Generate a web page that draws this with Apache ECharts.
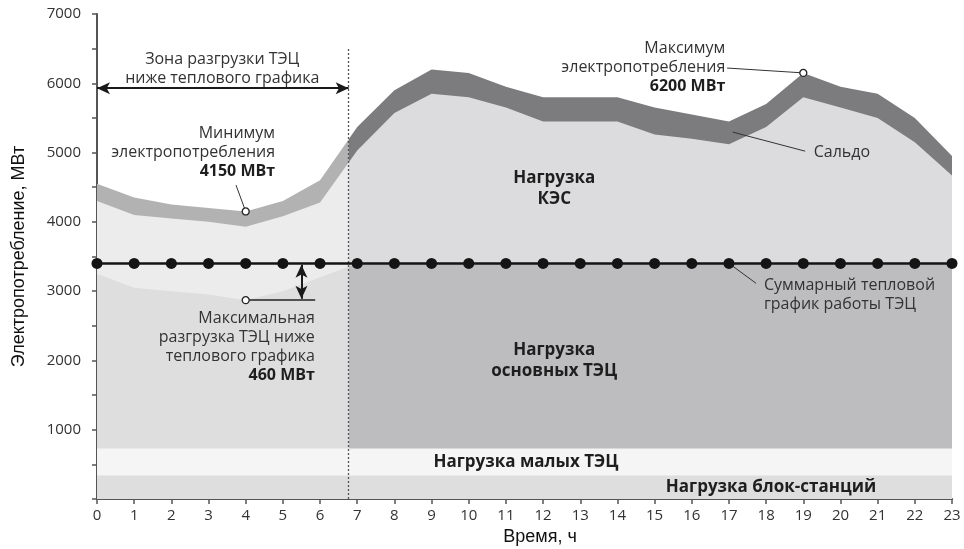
<!DOCTYPE html>
<html><head><meta charset="utf-8">
<script src="https://cdn.jsdelivr.net/npm/echarts@6/dist/echarts.min.js"></script>
<style>html,body{margin:0;padding:0;background:#fff}#c{width:964px;height:549px}</style>
</head><body><div id="c"></div>
<script>
// ---- data (MW by hour) ----
const hours = [0,1,2,3,4,5,6,7,8,9,10,11,12,13,14,15,16,17,18,19,20,21,22,23];
const totalLoad = [4550,4350,4250,4200,4150,4300,4600,5370,5900,6200,6150,5950,5800,5800,5800,5650,5550,5450,5700,6150,5950,5850,5500,4950];
const kesTop = [4300,4100,4050,4000,3930,4080,4280,5030,5570,5850,5800,5650,5450,5450,5450,5260,5200,5120,5370,5800,5650,5500,5150,4670];
const tecLoad = [3250,3050,3000,2950,2870,3000,3200,3400,3400,3400,3400,3400,3400,3400,3400,3400,3400,3400,3400,3400,3400,3400,3400,3400];
const smallTecTop = [730,730,730,730,730,730,730,730,730,730,730,730,730,730,730,730,730,730,730,730,730,730,730,730];
const blockTop = [340,340,340,340,340,340,340,340,340,340,340,340,340,340,340,340,340,340,340,340,340,340,340,340];
const heatGraph = [3400,3400,3400,3400,3400,3400,3400,3400,3400,3400,3400,3400,3400,3400,3400,3400,3400,3400,3400,3400,3400,3400,3400,3400];
const splitHour = 6.77;      // boundary of the unloading zone
const minPoint = [4, 4150];
const maxPoint = [19, 6150];
const unloadPoint = [4, 2870];

const pairs = arr => hours.map((h, i) => [h, arr[i]]);

const FONT = '"Open Sans", sans-serif';
const NAME_FONT = '"Liberation Sans", Arial, sans-serif';
const chart = echarts.init(document.getElementById('c'), null, {renderer: 'canvas'});

function areaSeries(name, arr, color) {
  const s = {
    name, type: 'line', data: pairs(arr), symbol: 'none', showSymbol: false,
    lineStyle: {width: 0}, areaStyle: {opacity: 1}, silent: true, animation: false,
    emphasis: {disabled: true}
  };
  if (color) { s.areaStyle.color = color; s.itemStyle = {color}; }
  return s;
}
function splitMap(idx, left, right) {
  return {type: 'piecewise', show: false, dimension: 0, seriesIndex: idx,
    pieces: [{lt: splitHour, color: left}, {gte: splitHour, lte: 30, color: right}],
    outOfRange: {color: right}};
}
const lineC = {color: '#333', width: 1, type: 'solid'};
function seg(a, b, style, s1, s2) {
  return [{coord: a, symbol: s1 || 'none', lineStyle: style}, {coord: b, symbol: s2 || 'none'}];
}

const option = {
  animation: false,
  grid: {left: 97, right: 12, top: 14, bottom: 50, containLabel: false, outerBoundsMode: 'none'},
  xAxis: {
    type: 'value', min: 0, max: 23, interval: 1,
    name: 'Время, ч', nameLocation: 'middle', nameGap: 28,
    nameTextStyle: {fontFamily: NAME_FONT, fontSize: 18, color: '#111', padding: [0, 0, 0, 31]},
    axisLine: {lineStyle: {color: '#555', width: 2}},
    axisTick: {show: true, length: 5, lineStyle: {color: '#555', width: 1.5}},
    axisLabel: {fontFamily: FONT, fontSize: 15, color: '#333', margin: 9},
    splitLine: {show: false}
  },
  yAxis: {
    type: 'value', min: 0, max: 7000, interval: 500,
    name: 'Электропотребление, МВт', nameLocation: 'middle', nameGap: 69,
    nameTextStyle: {fontFamily: NAME_FONT, fontSize: 18, color: '#111'},
    axisLine: {show: true, lineStyle: {color: '#555', width: 2}},
    axisTick: {show: true, length: 5, lineStyle: {color: '#555', width: 1.5}},
    axisLabel: {fontFamily: FONT, fontSize: 15, color: '#333', margin: 16,
      formatter: v => (v > 0 && v % 1000 === 0) ? String(v) : ''},
    splitLine: {show: false}
  },
  visualMap: [
    splitMap(0, '#b2b2b2', '#7c7c7e'),
    splitMap(1, '#ececec', '#dcdcde'),
    splitMap(2, '#dedede', '#bdbdbf')
  ],
  series: [
    areaSeries('Сальдо', totalLoad),
    areaSeries('Нагрузка КЭС', kesTop),
    areaSeries('Нагрузка основных ТЭЦ', tecLoad),
    areaSeries('Нагрузка малых ТЭЦ', smallTecTop, '#f5f5f5'),
    areaSeries('Нагрузка блок-станций', blockTop, '#dedede'),
    {
      name: 'Суммарный тепловой график работы ТЭЦ', type: 'line', data: pairs(heatGraph),
      symbol: 'circle', symbolSize: 11, showSymbol: true,
      itemStyle: {color: '#141414'}, lineStyle: {color: '#141414', width: 2.5},
      animation: false, silent: true, z: 5,
      markLine: {
        silent: true, animation: false, symbolSize: [9, 13],
        lineStyle: {type: 'solid'},
        label: {show: false}, emphasis: {disabled: true},
        data: [
          seg([splitHour, 0], [splitHour, 6520], {color: '#555', width: 1.3, type: [2, 2]}),
          seg([0, 5930], [splitHour, 5930], {color: '#1a1a1a', width: 2, type: 'solid'}, 'arrow', 'arrow'),
          seg([5.5, 3380], [5.5, 2890], {color: '#1a1a1a', width: 2, type: 'solid'}, 'arrow', 'arrow'),
          seg(minPoint, [3.74, 4530], lineC),
          seg(maxPoint, [16.95, 6220], lineC),
          seg([17.1, 5296], [19.05, 5020], lineC),
          seg([17, 3400], [17.73, 3113], lineC),
          seg(unloadPoint, [5.87, 2870], {color: '#222', width: 1.5, type: 'solid'})
        ]
      },
      markPoint: {
        silent: true, animation: false, symbol: 'circle', symbolSize: 7,
        itemStyle: {color: '#fff', borderColor: '#222', borderWidth: 1.3},
        label: {show: false},
        data: [{coord: minPoint}, {coord: maxPoint}, {coord: unloadPoint}]
      }
    }
  ]
};
chart.setOption(option);

// ---- text annotations anchored in data coordinates ----
const notes = [
  {at: [3.37, 6205], text: 'Зона разгрузки ТЭЦ\nниже теплового графика', align: 'center'},
  {at: [4.79, 5007], text: 'Минимум\nэлектропотребления\n{b|4150 МВт}', align: 'right'},
  {at: [16.9, 6234], text: 'Максимум\nэлектропотребления\n{b|6200 МВт}', align: 'right'},
  {at: [19.28, 5000], text: 'Сальдо', align: 'left'},
  {at: [17.94, 2944], text: 'Суммарный тепловой\nграфик работы ТЭЦ', align: 'left'},
  {at: [5.86, 2198], text: 'Максимальная\nразгрузка ТЭЦ ниже\nтеплового графика\n{b|460 МВт}', align: 'right'},
  {at: [12.3, 4481], text: 'Нагрузка\nКЭС', align: 'center', bold: true},
  {at: [12.3, 1991], text: 'Нагрузка\nосновных ТЭЦ', align: 'center', bold: true},
  {at: [11.54, 529], text: 'Нагрузка малых ТЭЦ', align: 'center', bold: true},
  {at: [18.13, 169], text: 'Нагрузка блок-станций', align: 'center', bold: true}
];
const graphics = notes.map(n => {
  const p = chart.convertToPixel({gridIndex: 0}, n.at);
  return {
    type: 'text', x: p[0], y: p[1], silent: true, z: 100,
    style: {
      text: n.text, align: n.align, verticalAlign: 'middle',
      fontFamily: FONT, fontSize: n.bold ? 17 : 16, fontWeight: n.bold ? 'bold' : 'normal',
      lineHeight: n.bold ? 21 : 19, fill: n.bold ? '#1e1e1e' : '#333',
      rich: {b: {fontFamily: FONT, fontSize: 16, fontWeight: 'bold', fill: '#1e1e1e', lineHeight: 19}}
    }
  };
});
chart.setOption({graphic: graphics});
</script>
</body></html>
